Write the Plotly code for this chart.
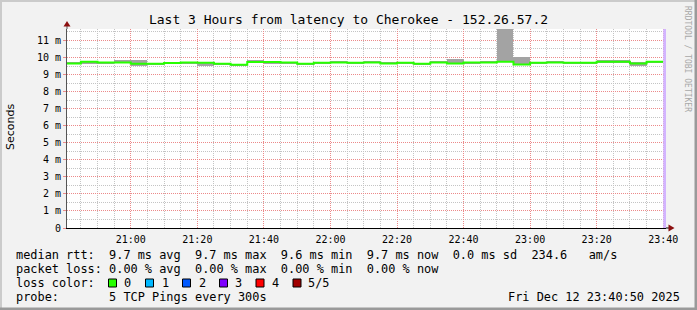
import plotly.graph_objects as go
import pandas as pd
import numpy as np

# ---------------- data ----------------
seg_start = pd.date_range("2025-12-12 20:40:00", periods=36, freq="5min")
median_ms = [9.65, 9.75, 9.71, 9.71, 9.63, 9.63, 9.67, 9.71, 9.69, 9.63,
             9.57, 9.73, 9.73, 9.71, 9.63, 9.69, 9.71, 9.69, 9.71, 9.65,
             9.69, 9.63, 9.71, 9.65, 9.71, 9.71, 9.75, 9.59, 9.69, 9.71,
             9.69, 9.69, 9.75, 9.75, 9.65, 9.75]
smoke_hi = [9.73, 9.78, 9.73, 9.84, 9.84, 9.66, 9.73, 9.73, 9.69, 9.66,
            9.60, 9.84, 9.75, 9.75, 9.66, 9.72, 9.78, 9.72, 9.78, 9.71,
            9.72, 9.66, 9.74, 9.90, 9.75, 9.74, 11.67, 10.04, 9.73, 9.74,
            9.72, 9.72, 9.84, 9.84, 9.75, 9.78]
smoke_lo = [9.59, 9.59, 9.67, 9.65, 9.51, 9.60, 9.61, 9.67, 9.51, 9.60,
            9.54, 9.65, 9.59, 9.65, 9.60, 9.66, 9.65, 9.66, 9.65, 9.59,
            9.66, 9.60, 9.68, 9.59, 9.65, 9.68, 9.71, 9.59, 9.65, 9.68,
            9.66, 9.66, 9.65, 9.65, 9.51, 9.72]
x_tick_vals = ["2025-12-12 21:00", "2025-12-12 21:20", "2025-12-12 21:40",
               "2025-12-12 22:00", "2025-12-12 22:20", "2025-12-12 22:40",
               "2025-12-12 23:00", "2025-12-12 23:20", "2025-12-12 23:40"]
x_tick_text = ["21:00", "21:20", "21:40", "22:00", "22:20", "22:40",
               "23:00", "23:20", "23:40"]
y_tick_vals = list(range(12))
y_tick_text = ["0"] + [f"{v} m" for v in range(1, 12)]
loss_labels = ["0", "1", "2", "3", "4", "5/5"]
loss_colors = ["#26ff00", "#00b8ff", "#0059ff", "#7e00ff", "#ff0000", "#a10000"]

title_text = "Last 3 Hours from latency to Cherokee - 152.26.57.2"
legend_lines = [
    "median rtt:  9.7 ms avg  9.7 ms max  9.6 ms min  9.7 ms now  0.0 ms sd  234.6   am/s",
    "packet loss: 0.00 % avg  0.00 % max  0.00 % min  0.00 % now",
    "loss color:",
    "probe:       5 TCP Pings every 300s",
]
date_text = "Fri Dec 12 23:40:50 2025"

# ---------------- layout geometry ----------------
W_IMG, H_IMG = 697, 310
L, R, T, B = 67, 666, 29, 228
PW, PH = R - L, B - T


def px(x):
    return (x - L) / PW


def py(y):
    return (B - y) / PH


MONO = "DejaVu Sans Mono"

seg_mid = seg_start + pd.Timedelta(seconds=150)
seg_edges = list(seg_start) + [seg_start[-1] + pd.Timedelta(minutes=5)]

fig = go.Figure()

fig.add_trace(go.Bar(
    x=seg_mid, y=np.array(smoke_hi) - np.array(smoke_lo), base=smoke_lo,
    width=300000, marker=dict(color="#a3a3a3", line=dict(width=0)),
    hoverinfo="skip", showlegend=False,
))
fig.add_trace(go.Scatter(
    x=seg_edges, y=median_ms + [median_ms[-1]], mode="lines",
    line=dict(color="#26ff00", width=2, shape="hv"),
    hoverinfo="skip", showlegend=False,
))

grid_major = "#ec8a8a"
grid_minor = "#c4c4c4"
DOT = "1px,1px"

fig.update_xaxes(
    type="date", range=["2025-12-12 20:40:50", "2025-12-12 23:40:50"],
    tickmode="array", tickvals=x_tick_vals, ticktext=x_tick_text,
    showgrid=True, gridcolor=grid_major, griddash=DOT, gridwidth=1,
    minor=dict(tickmode="linear", tick0="2025-12-12 20:00", dtick=300000,
               showgrid=True, gridcolor=grid_minor, griddash=DOT, gridwidth=1),
    showline=True, linecolor="#000000", linewidth=1,
    ticks="outside", ticklen=2, tickcolor="rgba(0,0,0,0)",
    tickfont=dict(family=MONO, size=10, color="#000"),
    zeroline=False, fixedrange=True,
)
fig.update_yaxes(
    range=[0, 11.67],
    tickmode="array", tickvals=y_tick_vals, ticktext=y_tick_text,
    showgrid=True, gridcolor=grid_major, griddash=DOT, gridwidth=1,
    minor=dict(tickmode="linear", tick0=0, dtick=0.5,
               showgrid=True, gridcolor=grid_minor, griddash=DOT, gridwidth=1),
    showline=True, linecolor="#555555", linewidth=1,
    ticks="outside", ticklen=3, tickcolor="#ec8a8a", tickwidth=1,
    tickfont=dict(family=MONO, size=10, color="#000"),
    zeroline=False, fixedrange=True,
)

shapes = []
# purple "now" band
shapes.append(dict(type="rect", xref="x", yref="paper",
                   x0="2025-12-12 23:40:00", x1="2025-12-12 23:40:50", y0=0, y1=1,
                   fillcolor="#d2b4ff", line=dict(width=0), layer="above"))
# axis extensions and arrows
shapes.append(dict(type="line", xref="paper", yref="paper",
                   x0=px(L), x1=px(L), y0=py(T), y1=py(25),
                   line=dict(color="#555555", width=1)))
shapes.append(dict(type="line", xref="paper", yref="paper",
                   x0=px(R), x1=px(669), y0=py(B), y1=py(B),
                   line=dict(color="#000000", width=1)))
shapes.append(dict(type="path", xref="paper", yref="paper",
                   path=f"M {px(L)} {py(21)} L {px(L-3.5)} {py(26.5)} L {px(L+3.5)} {py(26.5)} Z",
                   fillcolor="#8c1010", line=dict(width=0)))
shapes.append(dict(type="path", xref="paper", yref="paper",
                   path=f"M {px(674.5)} {py(B)} L {px(668.5)} {py(B-3.5)} L {px(668.5)} {py(B+3.5)} Z",
                   fillcolor="#8c1010", line=dict(width=0)))
# image border shades
shapes.append(dict(type="rect", xref="paper", yref="paper",
                   x0=px(0), x1=px(2), y0=py(0), y1=py(H_IMG),
                   fillcolor="#cbcbcb", line=dict(width=0)))
shapes.append(dict(type="rect", xref="paper", yref="paper",
                   x0=px(0), x1=px(W_IMG), y0=py(0), y1=py(2),
                   fillcolor="#cbcbcb", line=dict(width=0)))
shapes.append(dict(type="rect", xref="paper", yref="paper",
                   x0=px(W_IMG - 2.5), x1=px(W_IMG), y0=py(0), y1=py(H_IMG),
                   fillcolor="#9a9a9a", line=dict(width=0)))
shapes.append(dict(type="rect", xref="paper", yref="paper",
                   x0=px(0), x1=px(W_IMG), y0=py(H_IMG - 2.5), y1=py(H_IMG),
                   fillcolor="#9a9a9a", line=dict(width=0)))

# loss color boxes
box_x = [108.5, 145.5, 182.5, 219.5, 256, 293]
lab_x = [123, 160.5, 198, 234, 271, 307]
box_y0, box_y1 = 279, 287
for bx, col in zip(box_x, loss_colors):
    shapes.append(dict(type="rect", xref="paper", yref="paper",
                       x0=px(bx), x1=px(bx + 8), y0=py(box_y1), y1=py(box_y0),
                       fillcolor=col, line=dict(color="#000000", width=1)))

annotations = []
LEG_FONT = dict(family=MONO, size=11.9, color="#000")
line_y = [255, 268.5, 282.5, 296.5]
for txt, yy in zip(legend_lines, line_y):
    annotations.append(dict(text=txt, xref="paper", yref="paper",
                            x=px(15), y=py(yy), xanchor="left", yanchor="middle",
                            showarrow=False, font=LEG_FONT, borderpad=0))
for lx, lab in zip(lab_x, loss_labels):
    annotations.append(dict(text=lab, xref="paper", yref="paper",
                            x=px(lx), y=py(line_y[2]), xanchor="left", yanchor="middle",
                            showarrow=False, font=LEG_FONT, borderpad=0))
annotations.append(dict(text=date_text, xref="paper", yref="paper",
                        x=px(681), y=py(line_y[3]), xanchor="right", yanchor="middle",
                        showarrow=False, font=LEG_FONT, borderpad=0))
annotations.append(dict(text="Seconds", xref="paper", yref="paper",
                        x=px(10), y=py(127), xanchor="center", yanchor="middle",
                        textangle=-90, showarrow=False,
                        font=dict(family="DejaVu Sans", size=11, color="#000")))
annotations.append(dict(text="RRDTOOL / TOBI OETIKER", xref="paper", yref="paper",
                        x=px(688), y=py(59), xanchor="center", yanchor="middle",
                        textangle=90, showarrow=False,
                        font=dict(family=MONO, size=8, color="#a8a8a8")))

fig.update_layout(
    width=W_IMG, height=H_IMG,
    margin=dict(l=L, r=W_IMG - R, t=T, b=H_IMG - B, pad=0),
    paper_bgcolor="#f2f2f2", plot_bgcolor="#ffffff",
    title=dict(text=title_text, x=0.5, xanchor="center", xref="container",
               y=1 - 19 / H_IMG, yanchor="middle", yref="container",
               font=dict(family=MONO, size=13, color="#000")),
    shapes=shapes, annotations=annotations,
    barmode="overlay", bargap=0, showlegend=False,
)

fig.write_html("out.html", config={"displayModeBar": False})
